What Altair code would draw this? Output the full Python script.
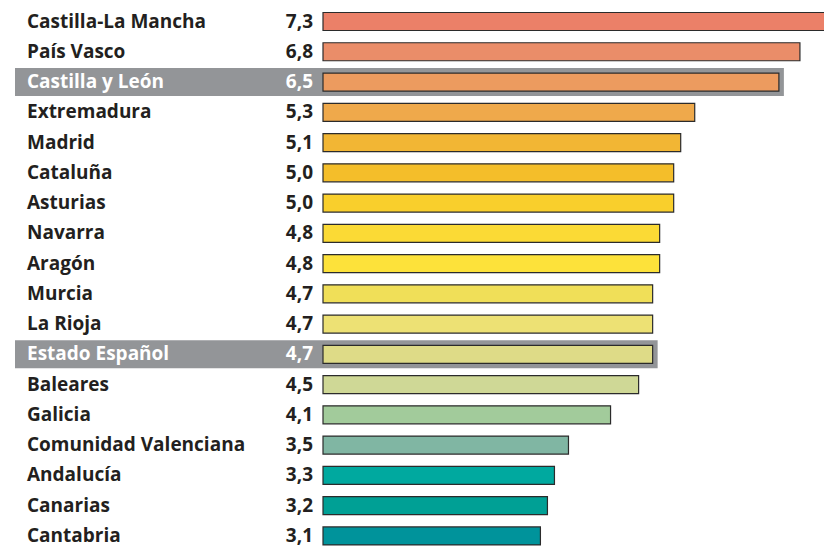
import altair as alt
import pandas as pd

regions = ["Castilla-La Mancha", "País Vasco", "Castilla y León", "Extremadura",
           "Madrid", "Cataluña", "Asturias", "Navarra", "Aragón", "Murcia",
           "La Rioja", "Estado Español", "Baleares", "Galicia",
           "Comunidad Valenciana", "Andalucía", "Canarias", "Cantabria"]
values = [7.3, 6.8, 6.5, 5.3, 5.1, 5.0, 5.0, 4.8, 4.8, 4.7, 4.7, 4.7, 4.5, 4.1,
          3.5, 3.3, 3.2, 3.1]
value_labels = ["7,3", "6,8", "6,5", "5,3", "5,1", "5,0", "5,0", "4,8", "4,8",
                "4,7", "4,7", "4,7", "4,5", "4,1", "3,5", "3,3", "3,2", "3,1"]
bar_colors = ["#EB8068", "#EA8D69", "#EC9B5F", "#EFA94B", "#F2B634", "#F4BE2A",
              "#F9CF2C", "#FBDA35", "#FDE23A", "#F0DF58", "#EDE174", "#DEDB87",
              "#CFD896", "#A2CB9B", "#80B6A3", "#00A99F", "#00A095", "#00939B"]
highlight = [False, False, True, False, False, False, False, False, False, False,
             False, True, False, False, False, False, False, False]

df = pd.DataFrame({
    "region": regions,
    "value": values,
    "label": value_labels,
    "color": bar_colors,
    "hl": highlight,
})

FONT = "Open Sans"
FS = 19
xscale = alt.Scale(domain=[0, 7.3], range=[315, 827], nice=False, zero=True)
yscale = alt.Scale(domain=regions, range=[0, 541.4], paddingInner=0.405, paddingOuter=0.149)

base = alt.Chart(df)

band = base.transform_filter("datum.hl").mark_rect(
    height=28, color="#939598", xOffset=5
).encode(
    x=alt.X("value:Q", scale=xscale, axis=None),
    x2=alt.value(7),
    y=alt.Y("region:N", scale=yscale, axis=None),
)

bars = base.mark_bar(
    height=18, stroke="#2b2b2b", strokeWidth=1.2
).encode(
    x=alt.X("value:Q", scale=xscale, axis=None),
    x2=alt.datum(0),
    y=alt.Y("region:N", scale=yscale, axis=None),
    fill=alt.Fill("color:N", scale=None),
)

names = base.mark_text(
    align="left", baseline="middle", font=FONT, fontWeight="bold", fontSize=FS
).encode(
    x=alt.value(19),
    y=alt.Y("region:N", scale=yscale, axis=None),
    text="region:N",
    color=alt.condition("datum.hl", alt.value("#ffffff"), alt.value("#231f20")),
)

nums = base.mark_text(
    align="right", baseline="middle", font=FONT, fontWeight="bold", fontSize=FS
).encode(
    x=alt.value(305),
    y=alt.Y("region:N", scale=yscale, axis=None),
    text="label:N",
    color=alt.condition("datum.hl", alt.value("#ffffff"), alt.value("#231f20")),
)

chart = alt.layer(band, bars, names, nums).properties(
    width=816, height=541,
    autosize=alt.AutoSizeParams(type="none"),
    padding=0,
).configure_view(stroke=None, clip=True)

chart.save("out.html", embed_options={"renderer": "svg", "actions": False})
